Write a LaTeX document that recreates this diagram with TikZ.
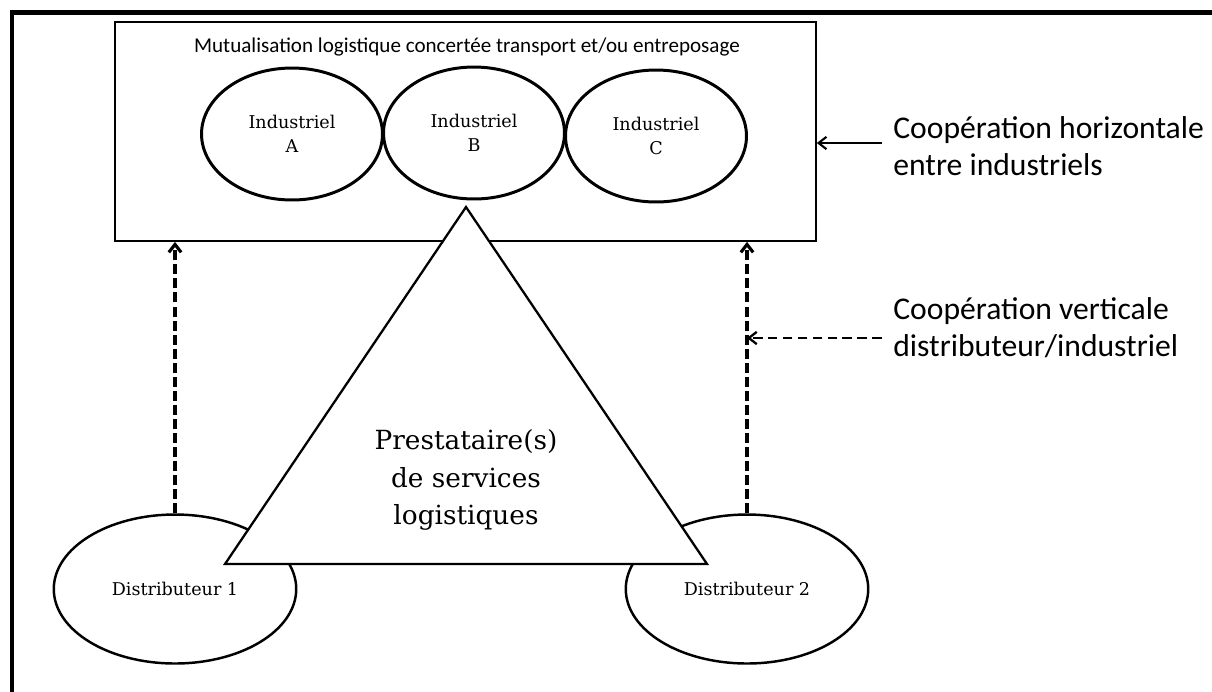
\documentclass[tikz,border=0pt]{standalone}
\usepackage{fontspec}
\setmainfont{DejaVu Serif}
\newfontfamily\calibri{Carlito}
\usetikzlibrary{arrows.meta,shapes.geometric}

\begin{document}
\begin{tikzpicture}[x=0.02cm,y=-0.02cm,
    indus/.style={ellipse,draw,line width=1.7pt,minimum width=3.62cm,minimum height=2.64cm,
        inner sep=0pt,align=center,font=\fontsize{10}{14}\selectfont},
    distri/.style={ellipse,draw,line width=1.4pt,minimum width=4.85cm,minimum height=2.98cm,
        inner sep=0pt,font=\fontsize{10}{14}\selectfont},
    etiq/.style={anchor=west,align=left,inner sep=0pt,font=\calibri\fontsize{18}{21}\selectfont},
    pointe/.style={-{Straight Barb[length=4.5pt,width=7pt]}},
    pointille/.style={pointe,dash pattern=on 5.7pt off 2.3pt,line width=1.8pt}]
    \useasboundingbox (0,0) rectangle (1212,691);

    % Cadre
    \coordinate (cadreB) at (12,700);
    \coordinate (cadreC) at (12,12.5);
    \coordinate (cadreD) at (1220,12.5);
    \draw[line width=2.5pt] (cadreB) -- (cadreC) -- (cadreD);

    % Mutualisation
    \node[draw,line width=1pt,minimum width=14.02cm,minimum height=4.38cm,inner sep=0pt] (mutu) at (465.5,131.5) {};
    \node[font=\calibri\fontsize{12}{14}\selectfont] (titre) at (467,47)
        {Mutualisation logistique concertée transport et/ou entreposage};
    \node[indus] (indA) at (292,134) {Industriel\\A};
    \node[indus] (indB) at (474,133) {Industriel\\B};
    \node[indus] (indC) at (656,136) {Industriel\\C};

    % Distributeurs
    \node[distri] (dist1) at (175,589) {Distributeur 1};
    \node[distri] (dist2) at (747,589) {Distributeur 2};

    % Prestataire
    \coordinate (sommet) at (466,207);
    \coordinate (baseG) at (225,564);
    \coordinate (baseD) at (707,564);
    \draw[fill=white,line width=1.3pt,line join=miter] (sommet) -- (baseG) -- (baseD) -- cycle;
    \node[align=center,font=\fontsize{15}{21.5}\selectfont] (presta) at (466,480)
        {Prestataire(s)\\de services\\logistiques};

    \draw[pointille] (dist1.north) -- (dist1.north |- mutu.south);
    \draw[pointille] (dist2.north) -- (dist2.north |- mutu.south);

    % Cooperations
    \node[etiq] (horiz) at (893,146.5) {Coopération horizontale\\entre industriels};
    \node[etiq] (verti) at (893,327.5) {Coopération verticale\\distributeur/industriel};
    \coordinate (hdep) at (882,143);
    \coordinate (vdep) at (882,338);
    \draw[pointe,line width=1.2pt] (hdep) -- (hdep -| mutu.east);
    \draw[pointe,line width=1.3pt,dash pattern=on 5.5pt off 3pt] (vdep) -- (vdep -| dist2.north);
\end{tikzpicture}
\end{document}
